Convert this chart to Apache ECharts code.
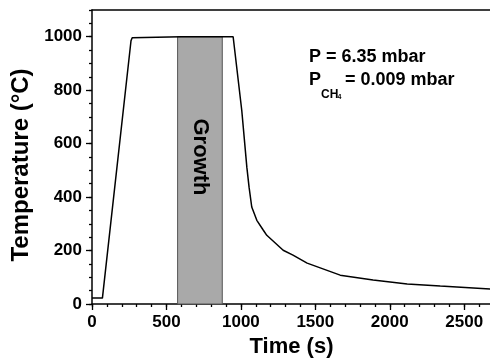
<!DOCTYPE html>
<html>
<head>
<meta charset="utf-8">
<script src="https://cdn.jsdelivr.net/npm/echarts@6/dist/echarts.min.js"></script>
<style>
html, body { margin: 0; padding: 0; background: #fff; }
#chart { width: 490px; height: 360px; }
</style>
</head>
<body>
<div id="chart"></div>
<script>
// temperature profile
const timeS = [0, 70, 72, 262, 270, 280, 600, 948, 1006, 1040, 1055, 1073, 1107, 1151, 1174, 1284, 1350, 1445, 1667, 1888, 2117, 2339, 2680]
const tempC = [22, 22, 25, 985, 996, 1000, 1000, 1000, 724, 512, 437, 363, 313, 276, 257, 201, 183, 153, 108, 90, 75, 67, 56]

// growth window (shaded)
const growthWindow = [575, 875]
const growthTop = 1000

const xMax = 2680
const yMax = 1100
const xMajor = 500
const xMinor = 100
const yMajor = 200
const yMinor = 50

const fontFamily = '"Liberation Sans", Arial, sans-serif'
const black = '#000'

const chart = echarts.init(document.getElementById('chart'))

const lineStyle = { color: black, width: 1.5 }
const labelStyle = { color: black, fontFamily, fontWeight: 'bold', fontSize: 17, formatter: (v) => String(v) }

chart.setOption({
	animation: false,
	grid: {
		left: 92,
		right: -1,
		top: 10,
		bottom: 56,
		outerBoundsMode: 'none',
		containLabel: false
	},
	xAxis: [
		{
			type: 'value',
			min: 0,
			max: xMax,
			interval: xMajor,
			position: 'bottom',
			name: 'Time (s)',
			nameLocation: 'middle',
			nameGap: 30,
			nameTextStyle: { color: black, fontFamily, fontWeight: 'bold', fontSize: 22 },
			axisLine: { show: true, onZero: false, lineStyle },
			axisTick: { show: true, length: 6, lineStyle: { color: black, width: 1.3 } },
			axisLabel: { ...labelStyle, margin: 10, showMaxLabel: false },
			splitLine: { show: false }
		},
		{
			type: 'value',
			min: 0,
			max: xMax,
			interval: xMinor,
			position: 'bottom',
			axisLine: { show: false, onZero: false },
			axisTick: { show: true, length: 3, lineStyle: { color: black, width: 1.3 } },
			axisLabel: { show: false },
			splitLine: { show: false }
		},
		{
			// top frame line
			type: 'value',
			min: 0,
			max: xMax,
			position: 'top',
			axisLine: { show: true, onZero: false, lineStyle },
			axisTick: { show: false },
			axisLabel: { show: false },
			splitLine: { show: false }
		}
	],
	yAxis: [
		{
			type: 'value',
			min: 0,
			max: yMax,
			interval: yMajor,
			position: 'left',
			name: 'Temperature (°C)',
			nameLocation: 'middle',
			nameGap: 56,
			nameTextStyle: { color: black, fontFamily, fontWeight: 'bold', fontSize: 24, padding: [0, 16, 0, 0] },
			axisLine: { show: true, onZero: false, lineStyle },
			axisTick: { show: true, length: 6, lineStyle: { color: black, width: 1.3 } },
			axisLabel: { ...labelStyle, margin: 10, showMaxLabel: false },
			splitLine: { show: false }
		},
		{
			type: 'value',
			min: 0,
			max: yMax,
			interval: yMinor,
			position: 'left',
			axisLine: { show: false, onZero: false },
			axisTick: { show: true, length: 3, lineStyle: { color: black, width: 1.3 } },
			axisLabel: { show: false },
			splitLine: { show: false }
		}
	],
	series: [
		{
			type: 'line',
			xAxisIndex: 0,
			yAxisIndex: 0,
			symbol: 'none',
			lineStyle: { color: black, width: 1.5 },
			data: timeS.map((t, i) => [t, tempC[i]]),
			markArea: {
				silent: true,
				itemStyle: { color: '#a9a9a9', borderColor: '#555', borderWidth: 1 },
				data: [[{ xAxis: growthWindow[0], yAxis: 0 }, { xAxis: growthWindow[1], yAxis: growthTop }]]
			}
		}
	]
})

// growth label sits in the middle of the shaded window
const growthPos = chart.convertToPixel({ gridIndex: 0 }, [(growthWindow[0] + growthWindow[1]) / 2, 550])
const textFont = (size) => 'bold ' + size + 'px ' + fontFamily

const textEl = (x, y, text, size, rotation) => ({
	type: 'text',
	z: 100,
	x,
	y,
	rotation: rotation || 0,
	style: { text, font: textFont(size), fill: black, align: rotation ? 'center' : 'left', verticalAlign: 'middle' }
})

chart.setOption({
	graphic: [
		textEl(growthPos[0], growthPos[1], 'Growth', 22, -Math.PI / 2),
		textEl(309, 57.5, 'P = 6.35 mbar', 18),
		textEl(309, 80, 'P', 18),
		textEl(321, 95, 'CH', 12),
		textEl(337.5, 97.5, '4', 7),
		textEl(345, 80, '= 0.009 mbar', 18)
	]
})

window.addEventListener('resize', () => chart.resize())
</script>
</body>
</html>
